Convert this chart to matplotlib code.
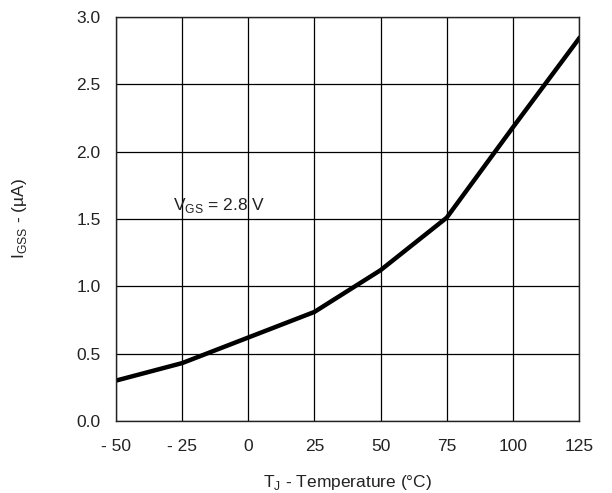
import matplotlib.pyplot as plt

plt.rcParams['font.family'] = ['Liberation Sans', 'DejaVu Sans']

# Gate leakage vs junction temperature
temp_c = [-50, -25, 0, 25, 50, 75, 100, 125]
igss_ua = [0.30, 0.43, 0.62, 0.81, 1.12, 1.51, 2.18, 2.84]

x_ticks = [-50, -25, 0, 25, 50, 75, 100, 125]
x_tick_labels = ["- 50", "- 25", "0", "25", "50", "75", "100", "125"]
y_ticks = [0.0, 0.5, 1.0, 1.5, 2.0, 2.5, 3.0]

fig = plt.figure(figsize=(6.12, 4.93), dpi=100)
ax = fig.add_axes([116 / 612, 72 / 493, 463 / 612, 404 / 493])

ax.plot(temp_c, igss_ua, color="black", linewidth=3.2, solid_joinstyle="miter")

ax.set_xlim(-50, 125)
ax.set_ylim(0, 3.0)
ax.set_xticks(x_ticks)
ax.set_xticklabels(x_tick_labels)
ax.set_yticks(y_ticks)
ax.set_yticklabels([f"{v:.1f}" for v in y_ticks])
ax.tick_params(axis="x", length=0, labelsize=12.5, colors="#222222", pad=13)
ax.tick_params(axis="y", length=0, labelsize=12.5, colors="#222222", pad=11)

ax.grid(True, color="black", linewidth=0.9)
for s in ax.spines.values():
    s.set_linewidth(1.0)
    s.set_color("#222222")

ax.text(-28.5, 1.60, "V$_{\\mathregular{GS}}$ = 2.8 V", fontsize=12.5, va="center", ha="left",
        color="#222222")

ax.set_xlabel("T$_{\\mathregular{J}}$ - Temperature (°C)", fontsize=12.5, color="#222222")
ax.set_ylabel("I$_{\\mathregular{GSS}}$ - (µA)", fontsize=12.5, color="#222222")
ax.xaxis.set_label_coords(0.5, -0.128)
ax.yaxis.set_label_coords(-0.188, 0.5)

fig.savefig("out.png", dpi=100)
